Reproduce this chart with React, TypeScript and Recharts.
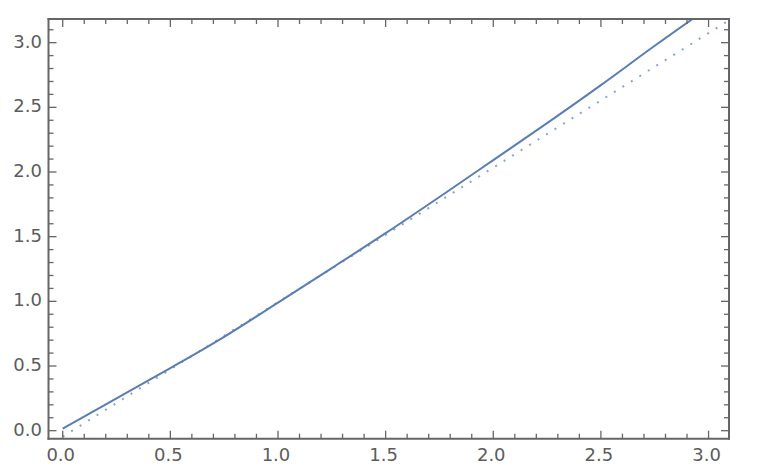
import { LineChart, Line, XAxis, YAxis } from "recharts";

// solid curve
const solidX = [0, 0.25, 0.5, 0.75, 1.0, 1.25, 1.5, 1.75, 2.0, 2.25, 2.5, 2.75, 3.0];
const solidY = [0.015, 0.25, 0.484, 0.726, 0.99, 1.257, 1.527, 1.807, 2.092, 2.378, 2.672, 2.976, 3.27];

// dotted reference line
const dottedX = [0, 3.1];
const dottedY = [-0.046, 3.178];

const xTicks = [
  0, 0.1, 0.2, 0.3, 0.4, 0.5, 0.6, 0.7, 0.8, 0.9, 1.0, 1.1, 1.2, 1.3, 1.4, 1.5,
  1.6, 1.7, 1.8, 1.9, 2.0, 2.1, 2.2, 2.3, 2.4, 2.5, 2.6, 2.7, 2.8, 2.9, 3.0,
];
const yTicks = [
  0, 0.1, 0.2, 0.3, 0.4, 0.5, 0.6, 0.7, 0.8, 0.9, 1.0, 1.1, 1.2, 1.3, 1.4, 1.5,
  1.6, 1.7, 1.8, 1.9, 2.0, 2.1, 2.2, 2.3, 2.4, 2.5, 2.6, 2.7, 2.8, 2.9, 3.0, 3.1,
];

const xDomain = [-0.066, 3.095];
const yDomain = [-0.062, 3.183];

const solidData = solidX.map((x, i) => ({ x, y: solidY[i] }));
const dottedData = dottedX.map((x, i) => ({ x, y: dottedY[i] }));

const FRAME = "#666666";
const LABEL = "#5c5c5c";
const BLUE = "#5a7db5";
const FONT = "'DejaVu Sans', sans-serif";

function isMajor(v: number) {
  return Math.abs(v * 2 - Math.round(v * 2)) < 1e-6;
}

function tickLen(v: number) {
  return isMajor(v) ? 8 : 5;
}

function BottomTick(props: any) {
  const { x, y, payload } = props;
  const v = payload.value as number;
  return (
    <g>
      <line x1={x} x2={x} y1={y} y2={y - tickLen(v)} stroke={FRAME} strokeWidth={1.3} />
      {isMajor(v) && (
        <text x={x - 2} y={y + 22} textAnchor="middle" fill={LABEL} fontSize={18} fontFamily={FONT}>
          {v.toFixed(1)}
        </text>
      )}
    </g>
  );
}

function TopTick(props: any) {
  const { x, y, payload } = props;
  const v = payload.value as number;
  return <line x1={x} x2={x} y1={y} y2={y + tickLen(v)} stroke={FRAME} strokeWidth={1.3} />;
}

function LeftTick(props: any) {
  const { x, y, payload } = props;
  const v = payload.value as number;
  return (
    <g>
      <line x1={x} x2={x + tickLen(v)} y1={y} y2={y} stroke={FRAME} strokeWidth={1.3} />
      {isMajor(v) && (
        <text x={x - 6.5} y={y + 5} textAnchor="end" fill={LABEL} fontSize={18} fontFamily={FONT}>
          {v.toFixed(1)}
        </text>
      )}
    </g>
  );
}

function RightTick(props: any) {
  const { x, y, payload } = props;
  const v = payload.value as number;
  return <line x1={x} x2={x - tickLen(v)} y1={y} y2={y} stroke={FRAME} strokeWidth={1.3} />;
}

const frameLine = { stroke: FRAME, strokeWidth: 2, strokeLinecap: "square" as const };

export default function App() {
  return (
    <div style={{ position: "absolute", left: 0, top: 0, width: 760, height: 470, background: "#fff" }}>
      <LineChart width={760} height={470} margin={{ top: 0, right: 0, bottom: 0, left: 0 }}>
        <XAxis
          xAxisId="t"
          orientation="top"
          dataKey="x"
          type="number"
          domain={xDomain}
          ticks={xTicks}
          interval={0}
          allowDataOverflow
          height={19}
          tickSize={0}
          tickMargin={0}
          tickLine={false}
          axisLine={frameLine}
          tick={<TopTick />}
        />
        <XAxis
          xAxisId="b"
          orientation="bottom"
          dataKey="x"
          type="number"
          domain={xDomain}
          ticks={xTicks}
          interval={0}
          allowDataOverflow
          height={31.3}
          tickSize={0}
          tickMargin={0}
          tickLine={false}
          axisLine={frameLine}
          tick={<BottomTick />}
        />
        <YAxis
          yAxisId="l"
          orientation="left"
          type="number"
          domain={yDomain}
          ticks={yTicks}
          interval={0}
          allowDataOverflow
          width={48.5}
          tickSize={0}
          tickMargin={0}
          tickLine={false}
          axisLine={frameLine}
          tick={<LeftTick />}
        />
        <YAxis
          yAxisId="r"
          orientation="right"
          type="number"
          domain={yDomain}
          ticks={yTicks}
          interval={0}
          allowDataOverflow
          width={31}
          tickSize={0}
          tickMargin={0}
          tickLine={false}
          axisLine={frameLine}
          tick={<RightTick />}
        />
        <Line
          xAxisId="t"
          yAxisId="r"
          data={dottedData}
          dataKey="y"
          type="linear"
          stroke={BLUE}
          strokeOpacity={0.7}
          strokeWidth={2}
          strokeDasharray="2 8"
          dot={false}
          activeDot={false}
          isAnimationActive={false}
        />
        <Line
          xAxisId="b"
          yAxisId="l"
          data={solidData}
          dataKey="y"
          type="monotone"
          stroke={BLUE}
          strokeWidth={2}
          dot={false}
          activeDot={false}
          isAnimationActive={false}
        />
      </LineChart>
    </div>
  );
}
